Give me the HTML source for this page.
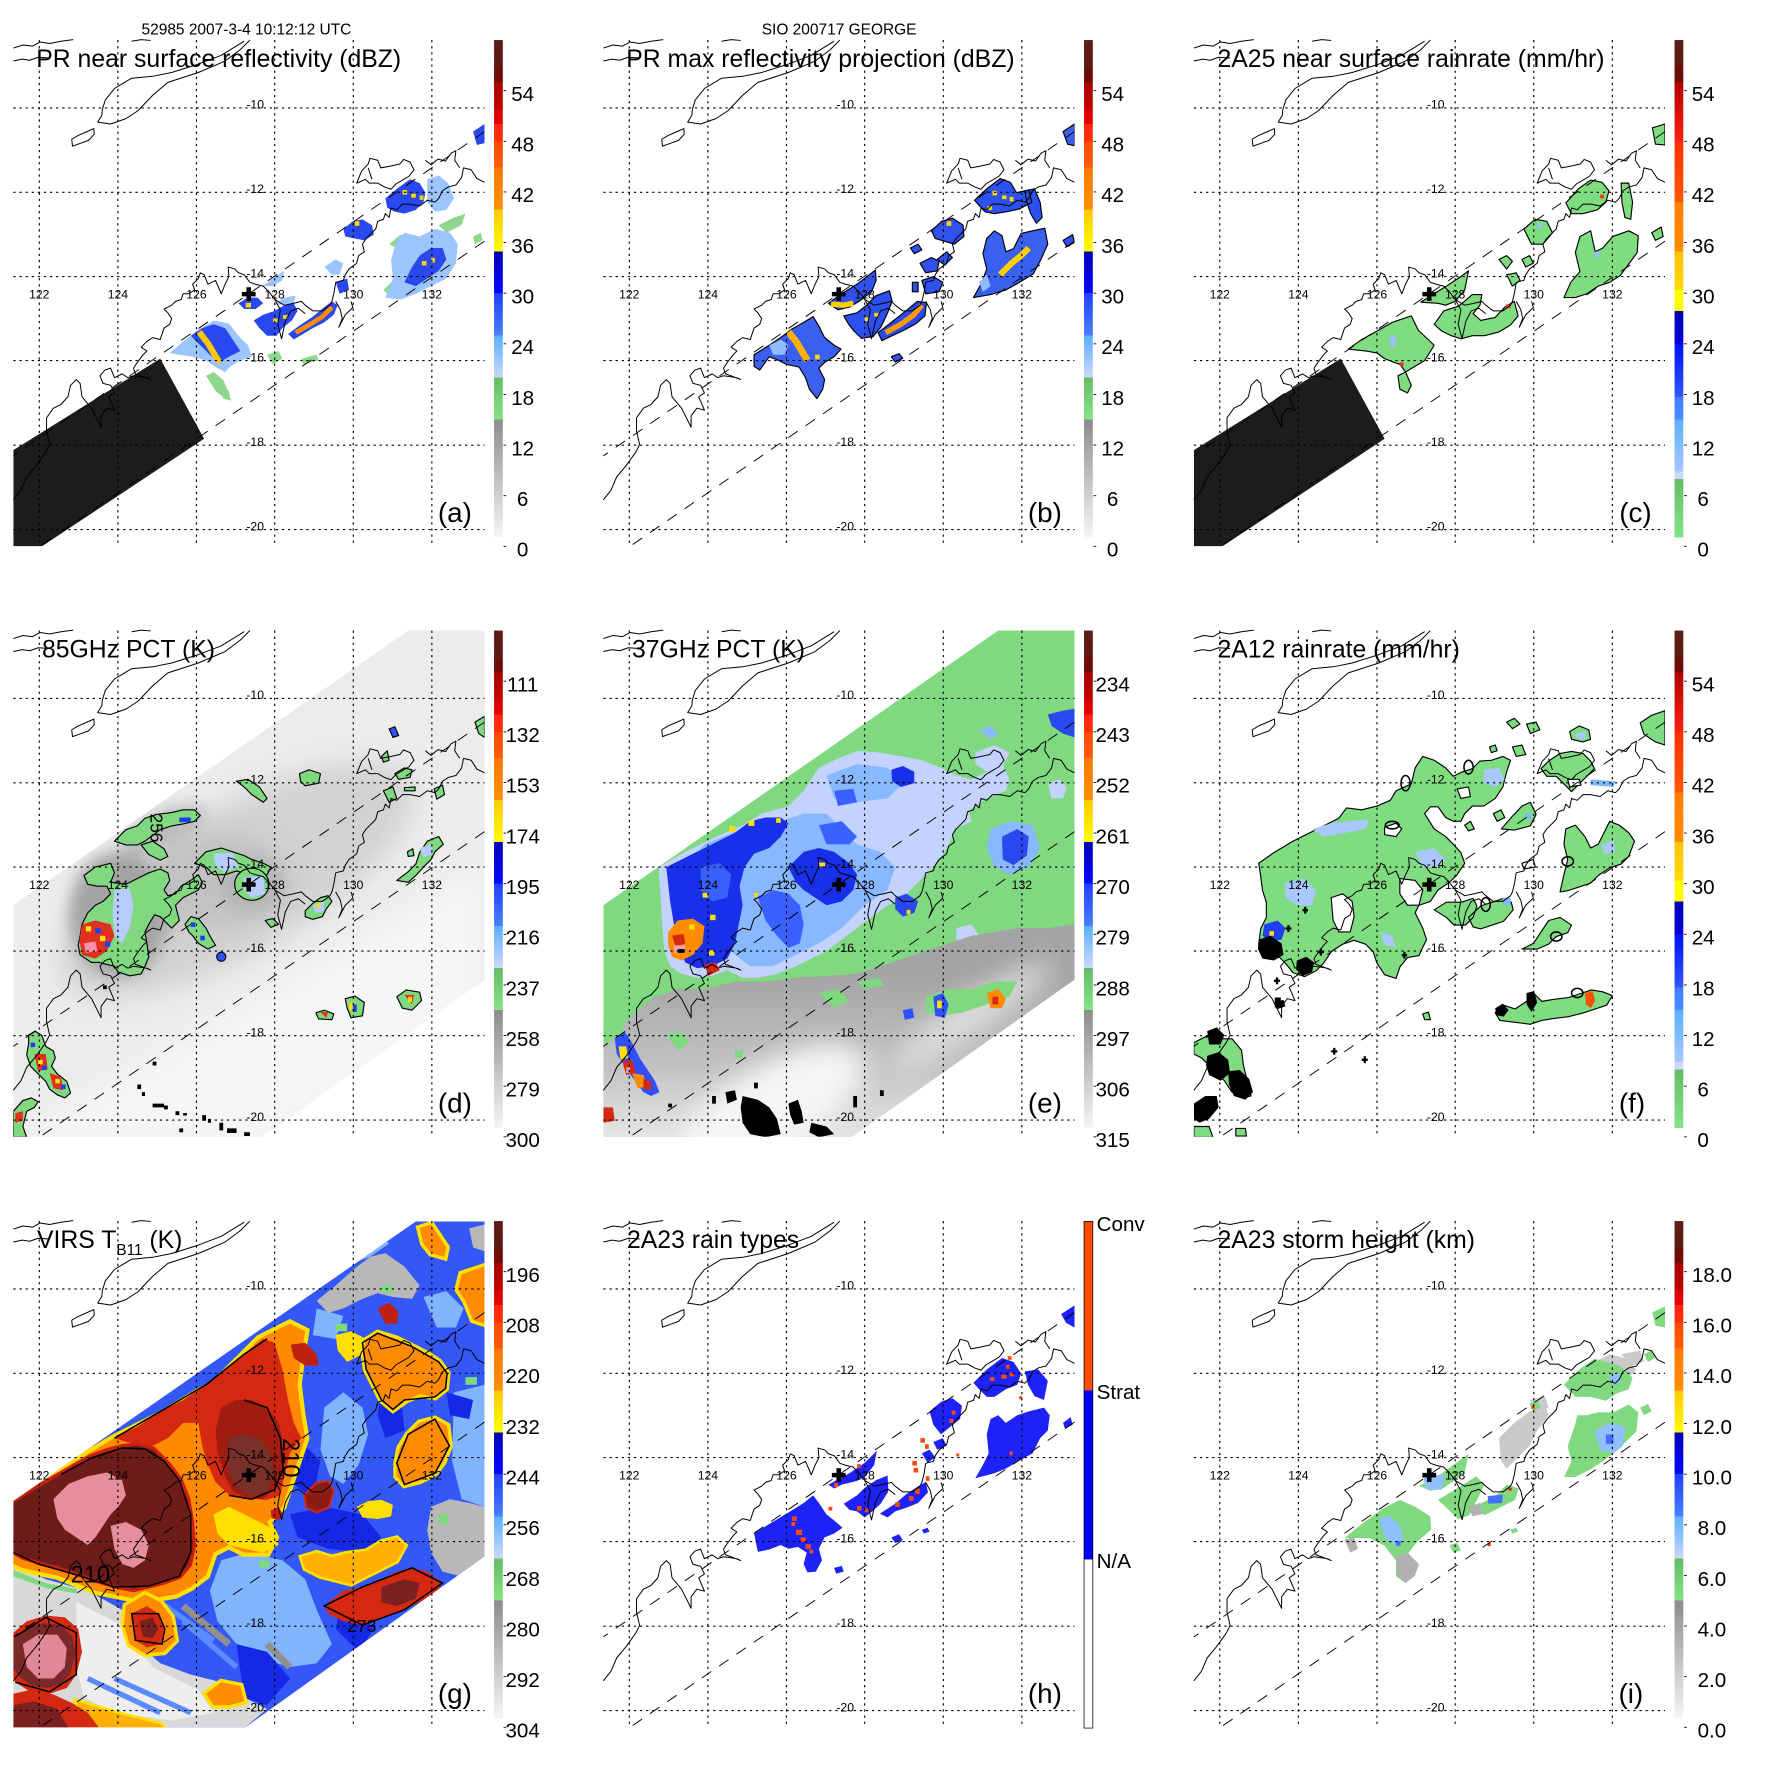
<!DOCTYPE html>
<html><head><meta charset="utf-8">
<style>
html,body{margin:0;padding:0;background:#fff;}
svg{display:block;}
text{font-family:"Liberation Sans",Arial,sans-serif;fill:#000;}
</style></head><body>
<svg width="1771" height="1771" viewBox="0 0 1771 1771" xmlns="http://www.w3.org/2000/svg" xmlns:xlink="http://www.w3.org/1999/xlink">
<defs>
<clipPath id="mc"><rect x="35" y="105" width="1235" height="1327"/></clipPath>
<clipPath id="swDE"><path d="M35,825L1070,105L1270,105L1270,1020L685,1433L35,1433Z"/></clipPath>
<clipPath id="swG"><path d="M35,839L1090,106L1270,106L1270,984L640,1434L35,1434Z"/></clipPath>
<filter id="bl" x="-50%" y="-50%" width="200%" height="200%"><feGaussianBlur stdDeviation="35"/></filter>
<filter id="bl2" x="-50%" y="-50%" width="200%" height="200%"><feGaussianBlur stdDeviation="20"/></filter>
<linearGradient id="cbA" x1="0" y1="0" x2="0" y2="1">
<stop offset="0" stop-color="#5a1e16"/><stop offset="0.053" stop-color="#5e1a12"/>
<stop offset="0.053" stop-color="#6a0e06"/><stop offset="0.083" stop-color="#700c04"/>
<stop offset="0.083" stop-color="#a80000"/><stop offset="0.136" stop-color="#c00000"/>
<stop offset="0.136" stop-color="#d80000"/><stop offset="0.166" stop-color="#e80400"/>
<stop offset="0.166" stop-color="#ff2410"/><stop offset="0.2" stop-color="#ff3008"/>
<stop offset="0.2" stop-color="#ff4800"/><stop offset="0.252" stop-color="#ff5c00"/>
<stop offset="0.252" stop-color="#ff7800"/><stop offset="0.335" stop-color="#ff9000"/>
<stop offset="0.335" stop-color="#ffc800"/><stop offset="0.418" stop-color="#ffff00"/>
<stop offset="0.418" stop-color="#0000b4"/><stop offset="0.5" stop-color="#0008ff"/>
<stop offset="0.5" stop-color="#2040ff"/><stop offset="0.584" stop-color="#4a80ff"/>
<stop offset="0.584" stop-color="#5ab0ff"/><stop offset="0.667" stop-color="#ccd8ff"/>
<stop offset="0.667" stop-color="#66bc66"/><stop offset="0.75" stop-color="#84e484"/>
<stop offset="0.75" stop-color="#8c8c8c"/><stop offset="0.983" stop-color="#f6f6f6"/>
<stop offset="0.983" stop-color="#ffffff"/><stop offset="1" stop-color="#ffffff"/>
</linearGradient>
<linearGradient id="cbB" x1="0" y1="0" x2="0" y2="1">
<stop offset="0" stop-color="#5a1e16"/><stop offset="0.053" stop-color="#5e1a12"/>
<stop offset="0.053" stop-color="#6a0e06"/><stop offset="0.083" stop-color="#700c04"/>
<stop offset="0.083" stop-color="#b00000"/><stop offset="0.2" stop-color="#ff2010"/>
<stop offset="0.2" stop-color="#ff3000"/><stop offset="0.32" stop-color="#ff5800"/>
<stop offset="0.32" stop-color="#ff7c00"/><stop offset="0.418" stop-color="#ff8c00"/>
<stop offset="0.418" stop-color="#ffc000"/><stop offset="0.494" stop-color="#ffdc00"/>
<stop offset="0.494" stop-color="#ffff00"/><stop offset="0.535" stop-color="#ffff00"/>
<stop offset="0.535" stop-color="#0000b4"/><stop offset="0.6" stop-color="#0000d8"/>
<stop offset="0.6" stop-color="#0010ff"/><stop offset="0.705" stop-color="#3058ff"/>
<stop offset="0.705" stop-color="#4080ff"/><stop offset="0.75" stop-color="#4a8cff"/>
<stop offset="0.75" stop-color="#5ab0ff"/><stop offset="0.852" stop-color="#a8c8ff"/>
<stop offset="0.852" stop-color="#ccd8ff"/><stop offset="0.867" stop-color="#ccd8ff"/>
<stop offset="0.867" stop-color="#66bc66"/><stop offset="0.983" stop-color="#84e484"/>
<stop offset="0.983" stop-color="#ffffff"/><stop offset="1" stop-color="#ffffff"/>
</linearGradient>
<linearGradient id="grayE" gradientUnits="userSpaceOnUse" x1="0" y1="980" x2="0" y2="1400">
<stop offset="0" stop-color="#a4a4a4"/><stop offset="0.6" stop-color="#c4c4c4"/><stop offset="1" stop-color="#e4e4e4"/>
</linearGradient>

<g id="grid" stroke="#000" stroke-width="3" stroke-dasharray="6 10" fill="none">
<path d="M103,105V1432M309,105V1432M515,105V1432M720,105V1432M926,105V1432M1132,105V1432M35,283H1270M35,504H1270M35,725H1270M35,945H1270M35,1167H1270M35,1388H1270"/>
</g>
<g id="swl" stroke="#000" stroke-width="2.5" stroke-dasharray="30 25" fill="none">
<path d="M1270,345L35,1195M1270,632L105,1432"/>
</g>
<g id="coast" stroke="#000" stroke-width="2.6" fill="none" stroke-linejoin="round">
<path d="M35,126L60,118L85,121L105,110L130,114L160,108L192,104M35,160L58,155L78,158L100,150L130,152M345,108L370,104L395,106"/>
<path d="M655,105L630,130L590,160L520,190L440,216L400,250L362,290L330,311L290,325L256,320L267,302L268,288L276,262L300,232L345,205L400,200L450,190L520,168L580,145L640,108"/>
<path d="M190,383L188,365L205,355L228,345L246,337L247,352L232,368L210,376Z"/>
<path d="M35,1310L55,1285L70,1250L95,1220L120,1185L130,1165L122,1130L122,1095L140,1070L160,1060L178,1040L185,1010L200,995L210,1005L215,1040L240,1070L265,1120L265,1090L280,1070L300,1075L285,1040L300,1030L290,1010L270,1005L262,985L275,970L290,965L300,990L320,980L335,990L350,985L385,990L395,995L370,985L355,980L350,965L360,950L375,930L385,920L370,910L385,895L400,885L420,890L425,875L430,860L445,850L450,835L440,820L430,810L450,800L460,790L475,785L480,770L495,770L510,760L505,745L520,730L525,715L535,720L545,745L565,735L580,770L590,745L600,725L598,700L615,705L625,715L640,720L655,740L670,745L690,750L705,765L720,785L745,800L770,795L790,790L800,800L820,815L845,815L865,800L870,790L875,770L880,740L900,735L905,720L915,705L935,690L940,670L955,660L950,640L960,625L975,610L985,600L990,580L1005,575L1010,560L1020,570L1025,545L1040,550L1055,535L1075,535L1100,540L1120,525L1140,530L1150,520L1160,500L1175,490L1195,485L1210,465L1215,440L1235,445L1250,468L1270,478"/>
<path d="M935,480L948,448L965,430L970,415L990,420L998,440L1020,436L1048,430L1058,418L1075,425L1085,445L1072,462L1055,472L1038,482L1025,496L1008,490L990,480L968,480L958,470Z M965,440L975,470"/>
<path d="M1115,420L1130,432L1148,417L1168,422L1182,402L1195,395L1192,420L1205,440"/>
<path d="M720,785L735,812L728,850L738,888L748,842L762,815L782,808L800,822M880,790L892,812L897,835L888,858L905,825L925,806L920,790"/>
</g>
<path id="cross" d="M646,753h12v12h12v12h-12v12h-12v-12h-12v-12h12z" fill="#000"/>
</defs>
<rect width="1771" height="1771" fill="#fff"/>

<!-- ================= (a) ================= -->
<g transform="translate(0,0) scale(0.3815)">
<g clip-path="url(#mc)">
<path fill="#1c1c1c" d="M35,1180L420,940L535,1150L110,1432L35,1432Z"/>
<path fill="#8ed88e" d="M540,985l20,-10 25,20 15,35 -10,15 -25,-20z M700,930l30,-10 10,20 -25,15z M790,940l40,-10 5,15 -40,10z M1005,760l30,-30 30,-10 -15,30 -35,20z M1150,590l40,-20 30,-10 -10,30 -40,20z M1240,620l20,-10 5,20 -20,10z M580,1020l20,5 5,25 -20,-5z M1020,640l30,-25 25,10 -25,30z"/>
<path fill="#9cc4ff" d="M445,925L480,895L520,865L560,840L600,848L625,880L650,905L660,935L630,945L605,960L590,975L570,965L540,945L505,935L470,930Z M690,750L720,725L745,710L740,735L715,750Z M1120,470L1150,460L1175,480L1190,520L1170,550L1140,555L1120,530Z M1010,780L1030,730L1025,680L1040,630L1060,610L1100,620L1140,600L1180,610L1200,640L1195,690L1170,730L1130,750L1090,770L1050,785Z M850,700L880,680L900,690L890,720L870,720Z M715,800L745,780L775,775L770,795Z"/>
<path fill="#2a48f0" d="M500,880L530,860L560,850L590,860L610,890L630,920L600,935L575,950L550,930L520,900Z M625,795L650,780L675,780L690,795L670,810L640,810Z M665,840L690,825L720,815L745,800L770,795L780,815L765,840L740,860L725,880L700,880L680,860Z M755,875L790,850L820,830L850,805L870,790L885,800L875,825L850,845L820,860L795,875L770,890Z M900,600L925,580L950,575L975,590L980,615L955,630L930,625L905,620Z M880,740L910,730L915,760L890,770Z M1010,520L1040,495L1075,470L1100,480L1115,505L1110,530L1090,550L1060,560L1035,555L1015,545Z M1060,740L1080,700L1100,670L1130,650L1160,650L1170,680L1150,710L1120,730L1090,750Z M1240,345L1270,325L1270,375L1250,380Z"/>
<path d="M522,870L545,900L560,925L575,950" stroke="#ffc800" stroke-width="16" fill="none"/>
<path d="M775,872L810,852L845,830L870,805" stroke="#ff8c00" stroke-width="12" fill="none"/>
<path fill="#ffd800" d="M644,794h14v12h-14z M716,835h12v10h-12z M742,826h12v10h-12z M930,580h12v12h-12z M1055,498h12v12h-12z M1078,508h12v10h-12z M1100,512h10v12h-10z M1106,684h12v12h-12z M1130,676h10v12h-10z"/>
</g>
<use href="#swl" xlink:href="#swl"/>
<use href="#grid" xlink:href="#grid"/>
<use href="#coast" xlink:href="#coast"/>
<use href="#cross" xlink:href="#cross"/>
<text x="646" y="91" font-size="40.6" text-anchor="middle">52985 2007-3-4 10:12:12 UTC</text>
<text x="95" y="176" font-size="65">PR near surface reflectivity (dBZ)</text>
<g font-size="32" text-anchor="end"><text x="692" y="285">-10</text><text x="692" y="506">-12</text><text x="692" y="727">-14</text><text x="692" y="947">-16</text><text x="692" y="1169">-18</text><text x="692" y="1390">-20</text></g>
<g font-size="32" text-anchor="middle"><text x="103" y="782">122</text><text x="309" y="782">124</text><text x="515" y="782">126</text><text x="720" y="782">128</text><text x="926" y="782">130</text><text x="1132" y="782">132</text></g>
<text x="1237" y="1368" font-size="73" text-anchor="end">(a)</text>
<rect x="1295" y="105" width="23" height="1327" fill="url(#cbA)"/>
<path d="M1320,237.7h7M1320,370.4h7M1320,503.1h7M1320,635.8h7M1320,768.5h7M1320,901.2h7M1320,1033.9h7M1320,1166.6h7M1320,1299.3h7M1320,1432h7" stroke="#000" stroke-width="2"/>
<g font-size="54" text-anchor="middle"><text x="1370" y="265">54</text><text x="1370" y="397">48</text><text x="1370" y="530">42</text><text x="1370" y="663">36</text><text x="1370" y="795">30</text><text x="1370" y="928">24</text><text x="1370" y="1061">18</text><text x="1370" y="1194">12</text><text x="1370" y="1326">6</text><text x="1370" y="1459">0</text></g>
</g>

<!-- ================= (b) ================= -->
<g transform="translate(590,0) scale(0.3815)">
<g clip-path="url(#mc)">
<g stroke="#000" stroke-width="3" stroke-linejoin="round">
<path fill="#3a60f0" d="M430,930L470,905L500,885L530,862L560,845L585,830L600,855L615,885L640,905L658,915L640,935L615,950L600,965L615,995L610,1020L595,1045L575,1020L565,990L548,962L515,955L495,945L470,935L445,970L430,960Z"/>
<path fill="#3050f0" d="M625,795L660,770L700,745L748,708L750,735L738,765L705,790L680,805L650,812Z"/>
<path fill="#2d4ff0" d="M665,828L700,820L725,800L750,775L785,762L792,790L778,825L762,858L742,882L712,887L692,868L678,850Z"/>
<path fill="#2a48f0" d="M755,872L790,845L828,815L858,790L882,793L878,828L852,850L822,866L792,880L765,893Z"/>
<path fill="#3050f0" d="M895,605L922,580L950,572L978,590L980,620L955,640L928,632L905,625Z M840,650l20,-10 10,15 -20,10z M865,690l30,-15 20,10 -5,25 -30,5z M870,735l30,-10 25,15 -10,25 -35,5z M845,740l15,0 0,25 -15,0z M910,680l25,-20 15,15 -20,20z M790,935l20,-8 10,12 -20,10z M1240,630l25,-15 5,20 -20,12z"/>
<path fill="#2d50f0" d="M1008,525L1040,495L1075,468L1102,478L1118,505L1150,498L1158,530L1125,548L1092,555L1060,560L1035,555Z M1140,500L1165,495L1180,530L1185,570L1170,585L1155,560L1145,530Z"/>
<path fill="#3a60f0" d="M1005,780L1025,745L1040,705L1030,665L1040,625L1060,605L1080,618L1090,660L1110,652L1130,612L1160,605L1192,598L1200,640L1182,680L1162,718L1122,742L1090,760L1050,772Z M1240,345L1270,325L1270,382L1252,378Z"/>
</g>
<path fill="#90bcff" d="M470,905L500,890L520,905L510,930L480,930Z M1020,740L1040,720L1050,750L1030,765Z"/>
<path d="M520,870L540,895L555,920L570,945" stroke="#ffb000" stroke-width="18" fill="none"/>
<path d="M632,797L665,800L690,795" stroke="#ffd000" stroke-width="14" fill="none"/>
<path d="M775,872L815,850L848,826L870,800" stroke="#ff9a00" stroke-width="14" fill="none"/>
<path d="M1075,720L1105,690L1130,670L1150,650" stroke="#ffd000" stroke-width="16" fill="none"/>
<path fill="#ffd800" d="M1055,500h12v12h-12z M1080,512h12v10h-12z M1100,516h10v12h-10z M1042,540h12v10h-12z M935,580h12v12h-12z M720,832h12v10h-12z M745,820h12v10h-12z M590,930h12v12h-12z"/>
</g>
<use href="#swl" xlink:href="#swl"/>
<use href="#grid" xlink:href="#grid"/>
<use href="#coast" xlink:href="#coast"/>
<use href="#cross" xlink:href="#cross"/>
<text x="653" y="91" font-size="40.6" text-anchor="middle">SIO 200717 GEORGE</text>
<text x="95" y="176" font-size="65">PR max reflectivity projection (dBZ)</text>
<g font-size="32" text-anchor="end"><text x="692" y="285">-10</text><text x="692" y="506">-12</text><text x="692" y="727">-14</text><text x="692" y="947">-16</text><text x="692" y="1169">-18</text><text x="692" y="1390">-20</text></g>
<g font-size="32" text-anchor="middle"><text x="103" y="782">122</text><text x="309" y="782">124</text><text x="515" y="782">126</text><text x="720" y="782">128</text><text x="926" y="782">130</text><text x="1132" y="782">132</text></g>
<text x="1237" y="1368" font-size="73" text-anchor="end">(b)</text>
<rect x="1295" y="105" width="23" height="1327" fill="url(#cbA)"/>
<path d="M1320,237.7h7M1320,370.4h7M1320,503.1h7M1320,635.8h7M1320,768.5h7M1320,901.2h7M1320,1033.9h7M1320,1166.6h7M1320,1299.3h7M1320,1432h7" stroke="#000" stroke-width="2"/>
<g font-size="54" text-anchor="middle"><text x="1370" y="265">54</text><text x="1370" y="397">48</text><text x="1370" y="530">42</text><text x="1370" y="663">36</text><text x="1370" y="795">30</text><text x="1370" y="928">24</text><text x="1370" y="1061">18</text><text x="1370" y="1194">12</text><text x="1370" y="1326">6</text><text x="1370" y="1459">0</text></g>
</g>

<!-- ================= (c) ================= -->
<g transform="translate(1180.5,0) scale(0.3815)">
<g clip-path="url(#mc)">
<path fill="#1c1c1c" d="M35,1180L420,940L535,1150L110,1432L35,1432Z"/>
<g transform="translate(-25,0)">
<g fill="#80dc80" stroke="#000" stroke-width="3" stroke-linejoin="round">
<path d="M465,915L500,890L540,868L580,845L630,828L648,865L672,888L690,905L665,945L640,960L615,975L600,955L585,950L560,940L540,925L510,920L490,918Z M595,985L615,975L630,1010L620,1030L600,1020Z"/>
<path d="M655,792L690,770L725,748L760,725L780,710L770,760L745,790L720,800L700,795Z"/>
<path d="M690,850L715,815L755,802L790,772L815,772L810,800L792,822L812,840L850,832L875,805L900,790L910,828L890,852L860,870L822,880L790,880L760,888L735,880L710,868Z"/>
<path d="M1035,532L1068,495L1100,472L1130,478L1148,500L1140,530L1118,550L1080,560L1050,560Z M1180,480L1200,480L1210,530L1205,575L1190,570L1182,530Z"/>
<path d="M1030,780L1048,740L1072,712L1060,662L1072,620L1100,605L1112,660L1132,650L1158,620L1200,605L1225,618L1222,662L1200,692L1178,722L1150,740L1120,750L1090,770L1060,780Z"/>
<path d="M925,600L955,575L985,580L1000,610L975,640L945,640Z M1262,335L1295,325L1295,380L1270,378Z M860,680l20,-10 15,15 -15,20z M880,720l25,-5 10,20 -20,15z M920,680l20,-10 10,20 -20,10z M1260,610l25,-15 5,25 -20,10z"/>
</g>
<path fill="#9cc0ff" d="M575,880h14v30h-14z M1110,660h12v14h-12z M960,585h12v12h-12z"/>
<path fill="#ff3010" d="M878,798h12v10h-12z M1125,510h10v10h-10z M600,950h10v10h-10z"/>
</g>
</g>
<use href="#swl" xlink:href="#swl"/>
<use href="#grid" xlink:href="#grid"/>
<use href="#coast" xlink:href="#coast"/>
<use href="#cross" xlink:href="#cross"/>
<text x="97" y="176" font-size="65">2A25 near surface rainrate (mm/hr)</text>
<g font-size="32" text-anchor="end"><text x="692" y="285">-10</text><text x="692" y="506">-12</text><text x="692" y="727">-14</text><text x="692" y="947">-16</text><text x="692" y="1169">-18</text><text x="692" y="1390">-20</text></g>
<g font-size="32" text-anchor="middle"><text x="103" y="782">122</text><text x="309" y="782">124</text><text x="515" y="782">126</text><text x="720" y="782">128</text><text x="926" y="782">130</text><text x="1132" y="782">132</text></g>
<text x="1235" y="1368" font-size="73" text-anchor="end">(c)</text>
<rect x="1295" y="105" width="23" height="1327" fill="url(#cbB)"/>
<path d="M1320,237.7h7M1320,370.4h7M1320,503.1h7M1320,635.8h7M1320,768.5h7M1320,901.2h7M1320,1033.9h7M1320,1166.6h7M1320,1299.3h7M1320,1432h7" stroke="#000" stroke-width="2"/>
<g font-size="54" text-anchor="middle"><text x="1370" y="265">54</text><text x="1370" y="397">48</text><text x="1370" y="530">42</text><text x="1370" y="663">36</text><text x="1370" y="795">30</text><text x="1370" y="928">24</text><text x="1370" y="1061">18</text><text x="1370" y="1194">12</text><text x="1370" y="1326">6</text><text x="1370" y="1459">0</text></g>
</g>

<!-- ================= (d) ================= -->
<g transform="translate(0,590.5) scale(0.3815)">
<g clip-path="url(#mc)">
<g clip-path="url(#swDE)">
<rect x="0" y="0" width="1300" height="1450" fill="#ececec"/>
<g filter="url(#bl)">
<ellipse cx="620" cy="760" rx="520" ry="190" transform="rotate(-30 620 760)" fill="#d2d2d2"/>
<ellipse cx="560" cy="760" rx="200" ry="130" fill="#c2c2c2"/>
<path d="M60,1420L1270,720L1270,1100L700,1450L60,1450Z" fill="#f6f6f6"/>
</g>
<g filter="url(#bl2)">
<ellipse cx="310" cy="850" rx="130" ry="165" fill="#a4a4a4"/>
<ellipse cx="660" cy="770" rx="80" ry="70" fill="#b4b4b4"/>
<ellipse cx="430" cy="630" rx="120" ry="50" transform="rotate(-25 430 630)" fill="#bdbdbd"/>
</g>
</g>
<g transform="translate(0,25)">
<g fill="#80d880" stroke="#000" stroke-width="3" stroke-linejoin="round">
<path d="M220,722L250,700L290,690L300,715L290,740L330,745L360,730L390,715L420,705L440,715L445,735L430,760L440,775L460,770L475,750L500,735L520,720L530,740L520,760L480,780L460,800L470,840L450,860L420,830L405,825L390,850L380,870L385,900L390,935L380,960L370,980L340,985L310,975L300,960L260,950L240,950L210,930L205,905L210,880L215,850L230,820L250,800L270,790L290,770L280,750L255,750L230,745Z"/>
<path d="M510,690L540,660L580,650L610,660L640,670L660,680L690,690L710,700L700,720L680,730L650,720L620,710L590,720L560,720L540,700Z"/>
<ellipse cx="660" cy="745" rx="45" ry="42"/>
<path d="M485,850L500,830L520,835L540,860L550,880L565,905L545,915L520,900L505,880L495,870Z"/>
<path d="M300,632L330,602L360,592L380,572L410,562L450,557L480,550L510,550L525,565L510,580L480,587L450,592L420,602L400,617L380,632L360,642L330,642Z M370,642L400,632L430,652L440,672L420,682L390,667Z"/>
<path d="M620,475L650,470L680,490L700,520L690,530L660,510L640,490Z M785,455L810,445L840,455L835,480L800,487L788,475Z"/>
<path d="M800,815L820,795L840,780L860,775L870,790L855,810L845,830L820,837L800,830Z M695,840L715,835L730,850L710,858Z"/>
<path d="M1000,410L1015,395L1020,420L1005,425Z M1035,455L1060,440L1080,445L1075,465L1045,470Z M1005,500L1030,490L1040,520L1020,530Z M1060,492L1088,490L1088,500L1060,500Z M1138,495L1160,485L1165,510L1145,522Z"/>
<path d="M1040,735L1070,712L1090,692L1100,662L1120,632L1150,620L1162,640L1140,660L1130,680L1110,700L1090,722L1070,740Z M1068,660L1082,652L1085,670L1070,672Z M1245,320L1270,305L1270,360L1255,350Z"/>
<path d="M828,1082L850,1075L875,1085L870,1100L835,1098Z M905,1045L930,1038L955,1055L950,1090L920,1095L910,1070Z M1040,1040L1065,1022L1100,1028L1105,1050L1080,1075L1055,1070Z"/>
<path d="M75,1140L92,1130L110,1142L120,1170L140,1182L145,1200L135,1222L150,1242L175,1262L185,1292L170,1305L150,1297L130,1282L120,1262L100,1242L80,1222L70,1192L75,1162Z"/>
<path d="M35,1340L60,1312L82,1305L100,1315L90,1330L70,1340L60,1380L70,1408L35,1408Z"/>
</g>
<path fill="#b8ccff" d="M300,760L340,755L350,800L340,860L320,900L300,880L295,820Z M560,665L610,662L625,700L590,712L565,700Z M640,725L690,725L695,770L660,780L640,760Z M820,800L850,790L850,815L825,820Z M1100,650L1130,640L1135,665L1110,675Z"/>
<path fill="#3050f0" stroke="#000" stroke-width="3" d="M1020,338L1035,332L1045,355L1030,360Z"/>
<ellipse cx="580" cy="935" rx="12" ry="12" fill="#3050f0" stroke="#000" stroke-width="3"/>
<path fill="#e03020" d="M215,850L250,840L290,850L300,880L280,920L250,940L215,930L208,890Z M90,1190L120,1190L125,1230L100,1235Z M130,1240L160,1250L165,1285L140,1280Z M40,1345L60,1340L60,1365L40,1370Z M1060,1035L1085,1035L1080,1060Z M840,1080L860,1080L855,1095Z"/>
<path fill="#ffe000" d="M225,855h14v14h-14z M262,880h14v14h-14z M240,910h12v12h-12z M100,1205h12v12h-12z M145,1255h12v12h-12z M915,1055h10v20h-10z M1070,1040h10v14h-10z M830,795h10v10h-10z"/>
<path fill="#2040f0" d="M250,860h14v14h-14z M275,895h14v14h-14z M110,1220h12v12h-12z M160,1270h12v12h-12z M925,1060h10v20h-10z M500,845h12v12h-12z M525,880h12v12h-12z M470,570h30v12h-30z M80,1160h12v12h-12z"/>
<path fill="#ff90a8" d="M220,900L250,895L255,920L225,925Z"/>
<path fill="#000" d="M360,1270h10v12h-10z M372,1290h8v10h-8z M400,1320h30v10h-30z M430,1325h10v10h-10z M460,1340h10v10h-10z M480,1345h10v6h-10z M530,1350h10v15h-10z M545,1360h8v10h-8z M575,1370h10v20h-10z M595,1385h25v12h-25z M640,1395h15v10h-15z M470,1385h10v10h-10z M400,1210h10v10h-10z M270,1010h10v10h-10z"/>
<text x="395" y="560" font-size="45" transform="rotate(90 395 560)">256</text>
</g>
</g>
<use href="#swl" xlink:href="#swl"/>
<use href="#grid" xlink:href="#grid"/>
<use href="#coast" xlink:href="#coast"/>
<use href="#cross" xlink:href="#cross"/>
<text x="110" y="176" font-size="65">85GHz PCT (K)</text>
<g font-size="32" text-anchor="end"><text x="692" y="285">-10</text><text x="692" y="506">-12</text><text x="692" y="727">-14</text><text x="692" y="947">-16</text><text x="692" y="1169">-18</text><text x="692" y="1390">-20</text></g>
<g font-size="32" text-anchor="middle"><text x="103" y="782">122</text><text x="309" y="782">124</text><text x="515" y="782">126</text><text x="720" y="782">128</text><text x="926" y="782">130</text><text x="1132" y="782">132</text></g>
<text x="1237" y="1368" font-size="73" text-anchor="end">(d)</text>
<rect x="1295" y="105" width="23" height="1327" fill="url(#cbA)"/>
<path d="M1320,237.7h7M1320,370.4h7M1320,503.1h7M1320,635.8h7M1320,768.5h7M1320,901.2h7M1320,1033.9h7M1320,1166.6h7M1320,1299.3h7M1320,1432h7" stroke="#000" stroke-width="2"/>
<g font-size="54" text-anchor="middle"><text x="1370" y="265">111</text><text x="1370" y="397">132</text><text x="1370" y="530">153</text><text x="1370" y="663">174</text><text x="1370" y="795">195</text><text x="1370" y="928">216</text><text x="1370" y="1061">237</text><text x="1370" y="1194">258</text><text x="1370" y="1326">279</text><text x="1370" y="1459">300</text></g>
</g>

<!-- ================= (e) ================= -->
<g transform="translate(590,590.5) scale(0.3815)">
<g clip-path="url(#mc)">
<g clip-path="url(#swDE)">
<rect x="0" y="0" width="1300" height="1450" fill="#80d880"/>
<g transform="translate(0,25)">
<path fill="#c4d2ff" d="M180,700L250,660L330,620L400,590L450,560L520,540L560,500L600,440L640,420L700,395L760,400L820,410L870,420L920,440L960,460L1000,470L1040,450L1080,430L1100,470L1090,500L1040,520L1010,540L980,560L960,580L950,620L930,660L900,700L860,740L820,780L780,800L740,830L700,860L660,890L620,920L580,940L540,960L490,980L440,990L400,990L360,970L320,985L280,990L240,980L210,960L195,920L190,860L185,780Z M1010,400L1060,380L1100,400L1080,440L1040,450L1010,430Z M960,860L1000,850L1020,880L990,900L960,890Z M1200,480L1230,470L1250,490L1240,520L1210,520Z M940,560L990,540L1000,580L960,600Z"/>
<path fill="#88b8ff" d="M300,640L400,600L500,580L560,560L620,560L660,600L700,640L760,660L800,700L780,760L720,800L660,860L600,900L540,930L480,960L420,960L380,930L350,900L300,850L260,780L250,700Z M1050,600L1100,580L1160,590L1180,650L1150,700L1100,720L1060,700L1040,650Z M1020,340L1050,330L1070,350L1050,365Z M620,460L700,430L780,440L820,480L780,520L700,530L640,520Z"/>
<path fill="#1830ea" d="M200,700L260,670L320,640L380,610L420,580L460,570L500,570L520,585L500,620L470,650L430,665L405,700L392,750L400,800L390,850L380,900L360,940L320,960L280,965L250,950L230,910L220,850L210,790Z M520,700L560,660L600,650L640,660L680,690L700,720L690,760L660,790L620,800L590,780L560,760L540,740Z M790,445L820,435L850,450L850,480L815,490L792,475Z"/>
<path fill="#3a60ff" d="M290,700L340,690L370,720L360,780L320,790L290,760Z M440,780L480,760L520,770L550,800L560,850L550,900L520,912L490,880L460,840Z M600,590L660,580L700,620L680,640L620,640Z M640,500L690,495L700,530L650,540Z"/>
<path fill="#2a48f0" d="M1080,620L1120,600L1150,620L1145,670L1110,695L1082,680Z M1200,300L1240,290L1270,285L1270,360L1240,350L1210,330Z M800,780L830,770L860,790L850,820L820,830L800,810Z"/>
<path fill="url(#grayE)" d="M35,1160L80,1120L120,1080L170,1040L230,1020L300,1020L380,1000L460,1000L540,990L620,985L700,980L760,960L820,940L880,920L940,900L1000,880L1060,870L1120,860L1200,860L1270,850L1270,995L690,1408L35,1408Z"/>
<g filter="url(#bl)">
<ellipse cx="480" cy="1330" rx="270" ry="110" transform="rotate(-30 480 1330)" fill="#f6f6f6"/>
<ellipse cx="1000" cy="1090" rx="250" ry="40" transform="rotate(-33 1000 1090)" fill="#e2e2e2"/>
</g>
<path fill="#80d880" d="M880,1040L940,1020L1000,1020L1060,1000L1120,1000L1100,1040L1040,1060L980,1080L920,1090L880,1080Z M35,1100L80,1090L90,1130L50,1160L35,1160Z M600,1030L650,1020L680,1050L640,1070Z M200,1140L240,1130L260,1160L230,1180Z M380,1180h20v20h-20z M700,1000L760,990L770,1010L720,1020Z"/>
<path fill="#3050ff" d="M900,1040L925,1030L940,1060L930,1095L905,1090Z M820,1075L845,1070L850,1095L825,1100Z M65,1150L90,1130L110,1160L130,1200L150,1230L170,1260L182,1290L160,1300L140,1290L110,1250L90,1220L70,1190Z"/>
<path fill="#ff8c00" d="M1040,1030L1070,1020L1090,1045L1080,1070L1050,1070Z M205,870L230,840L270,835L300,855L295,900L270,930L240,945L215,935L205,905Z M110,1240L140,1245L150,1275L125,1280Z"/>
<path fill="#d42810" d="M1055,1040h15v20h-15z M215,880L245,875L250,900L225,910Z M85,1210L110,1205L120,1240L95,1245Z M140,1255L160,1262L160,1285L140,1280Z M35,1330L60,1330L65,1365L35,1370Z M300,955L330,950L340,970L310,985Z"/>
<path fill="#ffe000" d="M910,1050h12v20h-12z M75,1170L95,1170L100,1200L80,1205Z M365,593h16v14h-16z M415,578h16v14h-16z M488,572h12v12h-12z M295,768h14v12h-14z M315,825h14v14h-14z M312,918h14v14h-14z M600,688h16v10h-16z M430,768h10v10h-10z M830,812h10v12h-10z M260,850h14v14h-14z"/>
<path fill="#f0a0b0" d="M220,905L250,905L250,925L220,925Z M95,1225h10v15h-10z"/>
<path fill="#000" d="M230,915h18v10h-18z M355,1290L380,1285L385,1310L360,1320Z M400,1300L440,1310L470,1330L490,1360L500,1400L460,1408L420,1400L400,1370L395,1330Z M520,1320L545,1310L555,1340L560,1370L535,1375L525,1350Z M580,1370L620,1380L640,1400L600,1408L575,1395Z M690,1300h10v30h-10z M430,1265h10v15h-10z M320,1300h10v20h-10z M205,1320h10v10h-10z M760,1285h10v15h-10z"/>
</g>
</g>
</g>
<use href="#swl" xlink:href="#swl"/>
<use href="#grid" xlink:href="#grid"/>
<use href="#coast" xlink:href="#coast"/>
<use href="#cross" xlink:href="#cross"/>
<text x="110" y="176" font-size="65">37GHz PCT (K)</text>
<g font-size="32" text-anchor="end"><text x="692" y="285">-10</text><text x="692" y="506">-12</text><text x="692" y="727">-14</text><text x="692" y="947">-16</text><text x="692" y="1169">-18</text><text x="692" y="1390">-20</text></g>
<g font-size="32" text-anchor="middle"><text x="103" y="782">122</text><text x="309" y="782">124</text><text x="515" y="782">126</text><text x="720" y="782">128</text><text x="926" y="782">130</text><text x="1132" y="782">132</text></g>
<text x="1237" y="1368" font-size="73" text-anchor="end">(e)</text>
<rect x="1295" y="105" width="23" height="1327" fill="url(#cbA)"/>
<path d="M1320,237.7h7M1320,370.4h7M1320,503.1h7M1320,635.8h7M1320,768.5h7M1320,901.2h7M1320,1033.9h7M1320,1166.6h7M1320,1299.3h7M1320,1432h7" stroke="#000" stroke-width="2"/>
<g font-size="54" text-anchor="middle"><text x="1370" y="265">234</text><text x="1370" y="397">243</text><text x="1370" y="530">252</text><text x="1370" y="663">261</text><text x="1370" y="795">270</text><text x="1370" y="928">279</text><text x="1370" y="1061">288</text><text x="1370" y="1194">297</text><text x="1370" y="1326">306</text><text x="1370" y="1459">315</text></g>
</g>

<!-- ================= (f) ================= -->
<g transform="translate(1180.5,590.5) scale(0.3815)">
<g clip-path="url(#mc)">
<g transform="translate(-25,25)">
<g fill="#80dc80" stroke="#000" stroke-width="3" stroke-linejoin="round">
<path d="M230,690L270,662L320,632L360,612L400,592L440,572L460,545L500,550L540,540L575,525L590,500L630,482L640,440L660,410L690,420L720,440L740,462L760,452L790,442L810,422L840,420L870,410L890,420L880,450L870,490L850,520L820,540L790,540L770,560L760,580L740,580L720,570L700,542L680,542L665,560L690,600L720,620L740,640L760,662L770,690L750,720L730,740L700,760L680,790L650,800L640,820L660,860L670,890L660,910L650,932L620,937L600,962L590,992L560,982L540,952L530,922L510,902L480,892L450,902L420,922L400,952L380,972L350,987L320,977L300,952L280,932L260,942L240,932L230,902L235,862L250,832L250,792L240,762L235,722Z"/>
<path d="M690,812L722,792L762,792L792,782L802,802L792,832L772,852L742,852L722,832Z M780,832L812,802L842,792L872,782L892,792L897,812L872,842L842,852L812,862L792,857Z"/>
<path d="M866,600L892,570L920,540L942,530L957,562L942,592L900,603Z"/>
<path d="M1020,765L1030,720L1040,680L1030,640L1035,600L1060,590L1085,620L1100,650L1120,640L1140,600L1150,580L1175,590L1200,610L1215,632L1200,672L1180,692L1150,702L1120,722L1100,742L1070,752L1040,762Z"/>
<path d="M970,442L990,422L1020,402L1050,397L1080,402L1100,422L1110,442L1090,462L1070,482L1050,502L1030,482L1010,462L985,462Z"/>
<path d="M1230,322L1260,302L1295,290L1295,380L1270,372L1240,352Z M1045,345L1070,330L1095,340L1100,365L1080,372L1050,365Z"/>
<path d="M880,320l20,-10 15,15 -20,12z M932,325l25,-5 10,20 -25,10z M895,385l25,-5 10,25 -25,5z M835,385l15,-5 5,15 -15,5z M845,560l20,-10 10,20 -20,10z M770,590l15,-10 10,20 -15,5z"/>
<path d="M850,1082L872,1062L902,1072L932,1052L952,1032L972,1052L1002,1047L1042,1042L1072,1032L1102,1022L1132,1027L1157,1037L1142,1062L1112,1072L1082,1082L1042,1092L1002,1097L972,1102L942,1112L902,1107L862,1102Z"/>
<path d="M920,915L950,900L970,870L990,840L1020,832L1050,852L1040,872L1010,882L990,902L960,915Z"/>
<path d="M60,1160L100,1140L130,1150L160,1150L185,1180L190,1220L200,1260L210,1300L190,1305L160,1290L140,1260L120,1240L100,1220L80,1200L60,1190Z M60,1380L100,1380L110,1408L60,1408Z M170,1385L195,1385L198,1405L170,1405Z M660,1085l15,-5 5,20 -15,0z"/>
</g>
<path fill="#fff" stroke="#000" stroke-width="3" d="M420,780L450,770L475,790L480,830L470,870L440,870L425,840Z M560,595L590,585L605,600L590,620L560,615Z M600,730L640,735L660,760L650,800L620,800L600,770Z M750,495L780,490L785,515L760,520Z M920,690L950,680L955,700L925,705Z M1040,470L1070,470L1075,485L1045,490Z"/>
<g fill="none" stroke="#000" stroke-width="4">
<ellipse cx="615" cy="480" rx="12" ry="20"/><ellipse cx="780" cy="438" rx="12" ry="18"/><ellipse cx="1040" cy="685" rx="15" ry="12"/><ellipse cx="825" cy="798" rx="12" ry="18"/><ellipse cx="1010" cy="882" rx="15" ry="12"/><ellipse cx="1065" cy="1030" rx="15" ry="12"/><ellipse cx="580" cy="590" rx="18" ry="10"/>
</g>
<path fill="#a8c8ff" d="M370,600L420,585L470,580L520,575L510,600L460,610L400,620Z M300,740L350,730L380,760L370,800L330,800L300,780Z M820,445L860,440L875,470L850,490L820,480Z M640,660L690,650L720,680L700,700L660,700Z M550,870L580,880L590,910L560,905Z M1130,640L1160,630L1165,660L1135,665Z M1060,350L1085,345L1085,365L1065,365Z"/>
<path fill="#80b8ff" d="M1100,470L1165,475L1160,490L1100,485Z M870,780h20v20h-20z M930,560h15v15h-15z"/>
<path fill="#2040f0" d="M245,850L280,840L300,860L290,890L260,895L240,880Z M940,1040h15v20h-15z"/>
<path fill="#ffe000" d="M258,868h12v12h-12z"/>
<path fill="#ff5000" d="M1085,1030L1105,1025L1112,1050L1100,1070L1088,1060Z"/>
<path fill="#000" d="M230,890L260,880L290,900L295,930L270,945L240,940L228,915Z M330,945L355,935L375,950L370,975L345,985L328,968Z M850,1070L870,1058L885,1075L872,1092L852,1088Z M932,1030L952,1025L960,1055L945,1080L932,1060Z M95,1130L120,1120L140,1140L130,1165L100,1165Z M95,1195L125,1185L150,1205L155,1240L130,1260L100,1245L92,1220Z M150,1235L180,1232L205,1255L215,1290L195,1310L165,1300L152,1270Z M60,1320L90,1300L120,1300L125,1330L100,1360L75,1370L60,1360Z M270,1055L295,1048L300,1065L280,1072Z M272,1042h16v26h-16z M345,810h14v6h-14z M349,804h6v18h-6z M300,858h16v6h-16z M305,852h6v18h-6z M385,920h16v6h-16z M390,914h6v18h-6z M605,928h14v6h-14z M609,922h6v18h-6z M420,1180h16v6h-16z M425,1174h6v18h-6z M500,1202h16v6h-16z M505,1196h6v18h-6z M270,995h16v6h-16z M275,989h6v18h-6z"/>
</g>
</g>
<use href="#swl" xlink:href="#swl"/>
<use href="#grid" xlink:href="#grid"/>
<use href="#coast" xlink:href="#coast"/>
<use href="#cross" xlink:href="#cross"/>
<text x="97" y="176" font-size="65">2A12 rainrate (mm/hr)</text>
<g font-size="32" text-anchor="end"><text x="692" y="285">-10</text><text x="692" y="506">-12</text><text x="692" y="727">-14</text><text x="692" y="947">-16</text><text x="692" y="1169">-18</text><text x="692" y="1390">-20</text></g>
<g font-size="32" text-anchor="middle"><text x="103" y="782">122</text><text x="309" y="782">124</text><text x="515" y="782">126</text><text x="720" y="782">128</text><text x="926" y="782">130</text><text x="1132" y="782">132</text></g>
<text x="1218" y="1368" font-size="73" text-anchor="end">(f)</text>
<rect x="1295" y="105" width="23" height="1327" fill="url(#cbB)"/>
<path d="M1320,237.7h7M1320,370.4h7M1320,503.1h7M1320,635.8h7M1320,768.5h7M1320,901.2h7M1320,1033.9h7M1320,1166.6h7M1320,1299.3h7M1320,1432h7" stroke="#000" stroke-width="2"/>
<g font-size="54" text-anchor="middle"><text x="1370" y="265">54</text><text x="1370" y="397">48</text><text x="1370" y="530">42</text><text x="1370" y="663">36</text><text x="1370" y="795">30</text><text x="1370" y="928">24</text><text x="1370" y="1061">18</text><text x="1370" y="1194">12</text><text x="1370" y="1326">6</text><text x="1370" y="1459">0</text></g>
</g>

<!-- ================= (g) ================= -->
<g transform="translate(0,1181) scale(0.3815)">
<g clip-path="url(#mc)">
<g clip-path="url(#swG)">
<rect x="0" y="0" width="1300" height="1450" fill="#3458f8"/>
<g transform="translate(0,-26)">
<path fill="#80b4ff" d="M580,1020L650,1000L740,1020L800,1070L830,1150L870,1240L830,1290L760,1300L690,1280L620,1240L570,1180L550,1100Z M850,620L900,580L950,620L965,690L940,770L900,820L865,800L840,730Z M1190,580L1270,560L1270,880L1210,860L1185,760Z M870,210L930,170L990,160L1020,190L970,225L900,250Z M1110,330L1170,315L1215,360L1195,410L1145,410Z M830,360L900,380L880,440L820,430Z M1180,980L1270,940L1270,1010L1200,1050Z"/>
<path fill="#1428e6" d="M760,900L850,880L950,900L1000,960L960,1000L860,990L780,960Z M1000,560L1050,580L1060,680L1010,700L990,640Z M1170,580L1240,600L1230,650L1180,640Z M620,1240L700,1260L760,1330L700,1400L640,1380Z M900,1100L980,1200L940,1260L880,1200Z M780,700L840,760L820,860L770,820Z"/>
<path fill="#b8b8b8" d="M830,340L880,300L930,255L970,225L1010,215L1060,250L1100,300L1080,335L1030,330L990,320L950,335L900,360L860,372Z M1130,880L1180,860L1230,870L1270,880L1270,1010L1200,1060L1160,1050L1130,1000L1120,940Z M1230,150L1270,140L1270,210L1240,200Z"/>
<path fill="#d8d8d8" d="M35,1030L120,1070L230,1100L320,1150L350,1230L420,1290L500,1320L580,1340L640,1380L700,1410L640,1460L35,1460Z"/>
<path fill="#eeeeee" d="M200,1130L320,1190L400,1300L520,1360L560,1420L450,1440L300,1420L220,1380L200,1300Z"/>
<path fill="none" stroke="#5a8cff" stroke-width="14" d="M300,1330L500,1420 M420,1130L560,1230 M480,1180L620,1300 M230,1330L420,1420"/>
<path fill="none" stroke="#909090" stroke-width="18" d="M480,1140L600,1240 M700,1240L760,1300"/>
<path fill="#80d880" d="M35,1045L120,1080L200,1095L205,1108L120,1093L35,1062Z M880,400h30v20h-30z M1000,300h30v20h-30z M1220,540h30v20h-30z M1150,900h25v25h-25z M680,1020h25v20h-25z"/>
<path fill="#ff8a00" stroke="#ffe000" stroke-width="22" paint-order="stroke" d="M35,860L100,820L200,760L300,700L360,670L420,640L470,610L520,580L560,560L600,520L640,480L680,440L720,420L760,400L800,420L790,480L780,560L790,640L800,700L780,760L760,820L740,880L720,900L700,920L720,960L700,1000L640,1000L600,980L560,1000L540,1060L500,1090L460,1110L400,1120L350,1120L300,1110L250,1100L200,1080L150,1060L100,1050L60,1040L35,1030Z"/>
<path fill="#d42810" d="M300,700L360,670L420,630L480,600L540,560L600,510L640,480L690,440L720,450L740,520L755,600L770,660L790,700L760,740L745,800L735,850L700,862L650,858L600,848L565,815L545,770L530,720L520,660L480,660L440,700L400,720L350,715Z"/>
<path fill="#6e1c1a" stroke="#c82010" stroke-width="18" paint-order="stroke" d="M35,870L100,830L170,790L240,750L280,735L320,725L360,720L400,730L440,770L470,810L490,860L500,920L505,980L495,1030L470,1060L430,1075L390,1085L350,1095L300,1085L250,1070L200,1052L150,1035L100,1022L60,1010L35,995Z"/>
<path fill="#e58f9e" d="M140,860L180,820L230,800L280,790L320,810L330,850L310,880L290,900L270,930L250,960L230,980L200,960L170,940L150,910Z M290,930L330,920L370,940L390,980L380,1020L350,1040L320,1030L300,990Z"/>
<path fill="#a01c10" d="M580,620L620,600L660,600L700,620L730,660L745,720L740,780L720,830L690,860L650,858L610,840L590,800L570,740L565,680Z"/>
<path fill="#783028" d="M600,700L640,690L680,700L710,740L720,790L700,840L660,850L620,830L600,790L595,740Z"/>
<path fill="#c02010" d="M762,455L800,450L830,480L835,510L800,510L770,490Z M990,360L1020,345L1045,370L1040,400L1010,400Z M710,890L730,880L742,900L730,915L712,910Z"/>
<path fill="#8a1c14" stroke="#d42810" stroke-width="10" paint-order="stroke" d="M800,850L830,820L860,815L872,840L860,880L830,892L805,880Z"/>
<g fill="#ff8c00" stroke="#ffe000" stroke-width="18" paint-order="stroke">
<path d="M950,450L990,425L1040,440L1080,460L1120,480L1150,500L1172,530L1168,570L1140,592L1100,585L1065,600L1030,625L1000,600L980,560L960,520Z"/>
<path d="M1040,765L1048,725L1070,690L1100,660L1140,650L1172,668L1178,720L1162,762L1140,792L1100,812L1060,822L1040,800Z"/>
<path d="M1100,150L1130,140L1170,200L1165,225L1130,215L1110,190Z M1210,270L1270,250L1270,400L1240,390L1220,340L1200,310Z"/>
<path d="M540,1370L580,1340L630,1350L640,1390L600,1400L560,1400Z"/>
<path d="M330,1140L380,1110L420,1130L450,1170L460,1230L430,1260L380,1265L340,1240L325,1190Z"/>
</g>
<path fill="#ffe000" d="M935,880L965,865L1000,862L1030,875L1025,905L990,912L950,908Z M560,900L600,880L640,900L680,920L720,940L730,980L690,1000L640,990L600,980L570,950Z M880,430L920,420L960,440L950,480L910,500L885,470Z"/>
<path fill="#ffb000" stroke="#ffe000" stroke-width="14" paint-order="stroke" d="M790,1012L830,1000L870,1012L910,1002L960,996L1000,972L1040,962L1062,982L1040,1022L1000,1042L960,1062L920,1082L880,1072L840,1062L800,1042Z M200,1390L300,1420L420,1450L430,1460L230,1460Z"/>
<path fill="#d42810" d="M850,1140L900,1100L950,1090L1000,1070L1040,1050L1080,1040L1120,1050L1160,1080L1140,1110L1100,1130L1060,1150L1000,1170L950,1190L900,1180L860,1160Z M345,1160L385,1140L415,1160L432,1200L425,1240L385,1248L355,1230Z M35,1210L70,1180L120,1165L170,1170L205,1200L215,1260L200,1320L175,1355L130,1370L80,1365L40,1340L35,1330Z M35,1370L80,1360L140,1372L190,1395L230,1420L260,1460L35,1460Z"/>
<path fill="#7a2020" d="M1000,1090L1060,1070L1100,1080L1090,1120L1040,1140L1000,1130Z M365,1180L400,1170L415,1200L400,1225L375,1220Z M35,1400L90,1390L150,1410L180,1460L35,1460Z"/>
<path fill="#7a2828" d="M35,1225L75,1195L115,1185L160,1190L190,1220L198,1265L185,1315L160,1345L125,1355L85,1350L50,1325L35,1305Z"/>
<path fill="#e08898" d="M60,1240L100,1215L150,1215L175,1250L170,1300L140,1330L100,1330L70,1300Z"/>
<g fill="none" stroke="#000" stroke-width="4">
<path d="M35,1000L100,1030L200,1058L300,1090L390,1088L470,1062L500,1000L500,900L470,810L430,760L380,728L320,726L240,752L160,795"/>
<path d="M600,850L660,860L720,835L742,780L735,700L700,620L640,600"/>
<path d="M950,450L990,425L1080,460L1150,500L1172,530L1168,570L1140,592L1060,600L1030,625L1000,600L960,520Z"/>
<path d="M1040,765L1070,690L1140,650L1178,720L1140,792L1060,822Z"/>
<path d="M850,1140L950,1090L1080,1040L1160,1080L1060,1150L950,1190Z"/>
<path d="M345,1160L415,1160L432,1200L425,1240L355,1230Z M40,1220L120,1170L200,1210L200,1320L130,1365L40,1340"/>
<path d="M300,700L420,630L540,560L640,480L700,440"/>
</g>
<text x="185" y="1078" font-size="62">210</text>
<text x="742" y="700" font-size="62" transform="rotate(90 742 700)">210</text>
<text x="910" y="1208" font-size="46">273</text>
</g>
</g>
</g>
<use href="#swl" xlink:href="#swl"/>
<use href="#grid" xlink:href="#grid"/>
<use href="#coast" xlink:href="#coast"/>
<use href="#cross" xlink:href="#cross"/>
<text x="97" y="176" font-size="65">VIRS T<tspan font-size="40" dy="18">B11</tspan><tspan dy="-18"> (K)</tspan></text>
<g font-size="32" text-anchor="end"><text x="692" y="285">-10</text><text x="692" y="506">-12</text><text x="692" y="727">-14</text><text x="692" y="947">-16</text><text x="692" y="1169">-18</text><text x="692" y="1390">-20</text></g>
<g font-size="32" text-anchor="middle"><text x="103" y="782">122</text><text x="309" y="782">124</text><text x="515" y="782">126</text><text x="720" y="782">128</text><text x="926" y="782">130</text><text x="1132" y="782">132</text></g>
<text x="1237" y="1368" font-size="73" text-anchor="end">(g)</text>
<rect x="1295" y="105" width="23" height="1327" fill="url(#cbA)"/>
<path d="M1320,237.7h7M1320,370.4h7M1320,503.1h7M1320,635.8h7M1320,768.5h7M1320,901.2h7M1320,1033.9h7M1320,1166.6h7M1320,1299.3h7M1320,1432h7" stroke="#000" stroke-width="2"/>
<g font-size="54" text-anchor="middle"><text x="1370" y="265">196</text><text x="1370" y="397">208</text><text x="1370" y="530">220</text><text x="1370" y="663">232</text><text x="1370" y="795">244</text><text x="1370" y="928">256</text><text x="1370" y="1061">268</text><text x="1370" y="1194">280</text><text x="1370" y="1326">292</text><text x="1370" y="1459">304</text></g>
</g>

<!-- ================= (h) ================= -->
<g transform="translate(590,1181) scale(0.3815)">
<g clip-path="url(#mc)">
<g transform="translate(0,-26)">
<path fill="#1c22f8" d="M430,950L470,925L520,895L560,870L585,850L600,870L620,900L645,920L662,935L640,950L615,960L600,990L608,1020L592,1050L570,1052L560,1030L568,1000L545,985L520,990L500,980L470,992L440,998Z M625,822L680,792L720,765L752,733L745,770L722,800L700,812L660,822L640,832Z M665,872L700,850L720,830L750,810L780,798L782,840L762,872L740,892L720,908L700,892L680,888Z M760,898L800,872L830,846L860,826L880,815L886,842L860,870L830,882L800,892L780,908Z M890,630L920,605L950,595L975,615L970,650L945,670L920,690L900,665Z M1005,555L1040,520L1080,490L1110,500L1130,530L1120,560L1090,572L1060,592L1040,592L1020,572Z M1140,525L1175,520L1200,550L1190,600L1165,590L1148,560Z M1010,805L1030,770L1045,740L1040,690L1050,650L1070,640L1090,660L1120,640L1150,630L1190,620L1205,640L1200,680L1180,700L1160,740L1120,762L1090,780L1060,792L1030,800Z M1235,375L1270,352L1270,410L1248,398Z M870,740l20,-10 15,20 -20,15z M900,710l25,-10 10,20 -25,10z M790,960l20,-8 10,15 -20,8z M870,940l15,-5 5,10 -15,5z M1240,660l20,-15 5,20 -20,10z M640,1040l20,-5 5,15 -20,5z"/>
<path fill="#ff4a10" d="M530,905h12v12h-12z M540,940h16v14h-16z M552,960h14v12h-14z M565,978h14v12h-14z M575,992h10v10h-10z M528,920h10v10h-10z M700,878h12v12h-12z M720,884h10v10h-10z M800,868h12v12h-12z M836,852h12v12h-12z M852,832h12v14h-12z M866,700h12v12h-12z M878,716h10v12h-10z M848,778h12v12h-12z M880,800h10v12h-10z M845,760h12v12h-12z M1048,540h12v10h-12z M1078,534h14v10h-14z M1100,528h12v10h-12z M1090,508h10v10h-10z M1125,590h8v8h-8z M1100,735h8v10h-8z M948,628h10v10h-10z M942,650h10v10h-10z M960,740h8v8h-8z M700,768h10v10h-10z M640,818h10v10h-10z M1095,485h10v10h-10z M625,880h10v10h-10z"/>
</g>
</g>
<use href="#swl" xlink:href="#swl"/>
<use href="#grid" xlink:href="#grid"/>
<use href="#coast" xlink:href="#coast"/>
<use href="#cross" xlink:href="#cross"/>
<text x="97" y="176" font-size="65">2A23 rain types</text>
<g font-size="32" text-anchor="end"><text x="692" y="285">-10</text><text x="692" y="506">-12</text><text x="692" y="727">-14</text><text x="692" y="947">-16</text><text x="692" y="1169">-18</text><text x="692" y="1390">-20</text></g>
<g font-size="32" text-anchor="middle"><text x="103" y="782">122</text><text x="309" y="782">124</text><text x="515" y="782">126</text><text x="720" y="782">128</text><text x="926" y="782">130</text><text x="1132" y="782">132</text></g>
<text x="1237" y="1368" font-size="73" text-anchor="end">(h)</text>
<rect x="1295" y="106" width="23" height="443" fill="#ff4a00"/>
<rect x="1295" y="549" width="23" height="443" fill="#0000ff"/>
<rect x="1295" y="106" width="23" height="1328" fill="none" stroke="#000" stroke-width="2"/>
<g font-size="54"><text x="1328" y="131">Conv</text><text x="1328" y="572">Strat</text><text x="1328" y="1014">N/A</text></g>
</g>

<!-- ================= (i) ================= -->
<g transform="translate(1180.5,1181) scale(0.3815)">
<g clip-path="url(#mc)">
<g transform="translate(-25,-26)">
<path fill="#cacaca" d="M860,700L900,660L940,630L980,610L990,640L960,680L940,720L900,760L880,780L865,760Z M1110,500L1150,480L1190,490L1220,520L1200,540L1160,525L1130,530Z M940,600L980,590L990,620L960,630Z M1180,480L1230,470L1240,500L1210,510Z"/>
<path fill="#80d880" d="M455,962L500,925L555,885L600,862L640,880L680,905L682,940L645,972L622,1002L632,1042L612,1078L590,1062L590,1022L560,982L520,962L490,962Z M650,825L700,800L740,770L780,742L770,790L742,812L712,832L680,838Z M700,862L750,832L800,800L822,822L802,862L782,902L752,912L722,882Z M790,882L850,852L880,822L912,832L902,862L862,882L822,902Z M1030,560L1070,520L1110,492L1140,500L1180,512L1210,542L1200,572L1170,582L1140,602L1100,592L1060,592Z M1030,802L1050,762L1040,722L1060,662L1065,640L1090,640L1120,632L1160,632L1200,612L1225,632L1220,682L1200,702L1170,732L1130,762L1100,782L1060,802Z M1262,370L1295,355L1295,410L1270,405Z M1240,480l20,-10 10,20 -20,10z M1230,620l20,-10 10,20 -20,10z M940,610l20,-10 10,20 -20,10z M730,980l20,-5 10,20 -20,5z M890,940l15,-5 5,10 -15,5z"/>
<path fill="#b0b0b0" d="M590,1010L620,1000L650,1030L640,1060L615,1080L595,1060Z M455,965L480,960L490,990L470,1000Z M780,880L810,870L815,900L790,905Z"/>
<path fill="#90c0ff" d="M545,910L575,905L600,930L610,970L585,980L560,960Z M660,800L720,795L710,835L670,835Z M1110,680L1150,660L1190,670L1185,720L1160,740L1125,730Z M1150,535L1175,530L1180,555L1155,560Z"/>
<path fill="#4070ff" d="M830,852L870,848L868,870L832,872Z M1140,690h20v25h-20z M590,970h12v12h-12z"/>
<path fill="#ff2000" d="M830,975h8v8h-8z M945,615h8v8h-8z M885,830h8v8h-8z"/>
</g>
</g>
<use href="#swl" xlink:href="#swl"/>
<use href="#grid" xlink:href="#grid"/>
<use href="#coast" xlink:href="#coast"/>
<use href="#cross" xlink:href="#cross"/>
<text x="97" y="176" font-size="65">2A23 storm height (km)</text>
<g font-size="32" text-anchor="end"><text x="692" y="285">-10</text><text x="692" y="506">-12</text><text x="692" y="727">-14</text><text x="692" y="947">-16</text><text x="692" y="1169">-18</text><text x="692" y="1390">-20</text></g>
<g font-size="32" text-anchor="middle"><text x="103" y="782">122</text><text x="309" y="782">124</text><text x="515" y="782">126</text><text x="720" y="782">128</text><text x="926" y="782">130</text><text x="1132" y="782">132</text></g>
<text x="1213" y="1368" font-size="73" text-anchor="end">(i)</text>
<rect x="1295" y="105" width="23" height="1327" fill="url(#cbA)"/>
<path d="M1320,237.7h7M1320,370.4h7M1320,503.1h7M1320,635.8h7M1320,768.5h7M1320,901.2h7M1320,1033.9h7M1320,1166.6h7M1320,1299.3h7M1320,1432h7" stroke="#000" stroke-width="2"/>
<g font-size="54" text-anchor="middle"><text x="1393" y="265">18.0</text><text x="1393" y="397">16.0</text><text x="1393" y="530">14.0</text><text x="1393" y="663">12.0</text><text x="1393" y="795">10.0</text><text x="1393" y="928">8.0</text><text x="1393" y="1061">6.0</text><text x="1393" y="1194">4.0</text><text x="1393" y="1326">2.0</text><text x="1393" y="1459">0.0</text></g>
</g>
</svg>
</body></html>
